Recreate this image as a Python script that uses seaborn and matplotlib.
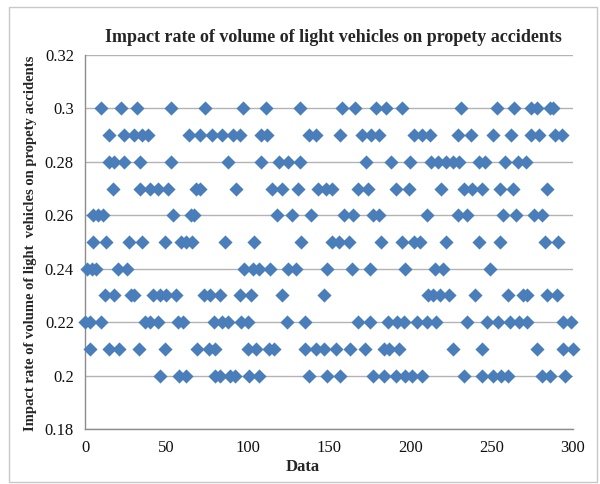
import matplotlib
matplotlib.use("Agg")
import matplotlib.pyplot as plt
from matplotlib.patches import Rectangle
from matplotlib.ticker import FuncFormatter
import seaborn as sns
import pandas as pd

# x positions of the points at each impact-rate level
x_030 = [10, 22, 32, 53, 74, 97, 111, 132, 158, 166, 179, 185, 195, 231, 253,
         264, 274, 278, 286, 288]
x_029 = [15, 24, 30, 35, 39, 64, 71, 78, 84, 91, 95, 108, 112, 138, 142, 157,
         170, 176, 181, 202, 207, 212, 229, 237, 251, 262, 274, 279, 289, 293]
x_028 = [15, 18, 24, 34, 53, 88, 108, 119, 125, 132, 173, 188, 200, 213, 217,
         222, 226, 230, 242, 246, 258, 266, 271]
x_027 = [17, 34, 40, 45, 51, 68, 71, 93, 115, 121, 131, 143, 148, 152, 168, 174,
         191, 199, 219, 233, 238, 244, 255, 263, 284]
x_026 = [5, 8, 11, 54, 65, 67, 118, 127, 139, 159, 165, 177, 181, 210, 229, 235,
         257, 265, 276, 281]
x_025 = [5, 13, 27, 35, 49, 59, 62, 66, 86, 104, 133, 152, 156, 162, 182, 195,
         202, 206, 222, 242, 255, 283, 291]
x_024 = [1, 4, 7, 20, 26, 98, 103, 107, 114, 125, 130, 149, 164, 175, 197, 215,
         220, 249]
x_023 = [12, 18, 28, 30, 42, 46, 50, 56, 73, 77, 83, 95, 102, 121, 147, 211,
         214, 218, 224, 240, 260, 269, 272, 284, 290]
x_022 = [0, 3, 10, 37, 40, 45, 57, 60, 79, 84, 88, 96, 100, 124, 135, 168, 175,
         186, 192, 196, 204, 210, 216, 235, 247, 254, 261, 267, 272, 294, 299]
x_021 = [3, 15, 21, 33, 49, 69, 76, 80, 100, 105, 113, 116, 135, 142, 147, 154,
         163, 172, 184, 187, 193, 226, 244, 278, 294, 300]
x_020 = [46, 58, 62, 80, 83, 89, 92, 101, 107, 138, 149, 157, 177, 184, 191,
         197, 201, 207, 233, 244, 251, 256, 260, 281, 286, 295]

levels = [0.30, 0.29, 0.28, 0.27, 0.26, 0.25, 0.24, 0.23, 0.22, 0.21, 0.20]
level_x = [x_030, x_029, x_028, x_027, x_026, x_025, x_024, x_023, x_022,
           x_021, x_020]

y_ticks = [0.18, 0.20, 0.22, 0.24, 0.26, 0.28, 0.30, 0.32]
x_ticks = [0, 50, 100, 150, 200, 250, 300]

title = "Impact rate of volume of light vehicles on propety accidents"
y_label = "Impact rate of volume of light  vehicles on propety accidents"
x_label = "Data"

rows = []
for lv, xs in zip(levels, level_x):
    for xv in xs:
        rows.append({"Data": xv, "rate": lv})
df = pd.DataFrame(rows)

sns.set_style("white")
plt.rcParams["font.family"] = ["Liberation Serif", "DejaVu Serif"]

W, H = 600, 484
fig = plt.figure(figsize=(W / 100, H / 100), dpi=100)
ax = fig.add_axes([85 / W, 1 - 429 / H, (573 - 85) / W, (429 - 55) / H])

sns.scatterplot(data=df, x="Data", y="rate", marker="D", s=52,
                color="#4A7EBB", linewidth=0, ax=ax, zorder=3, clip_on=False)

ax.set_xlim(0, 300)
ax.set_ylim(0.18, 0.32)
ax.set_xticks(x_ticks)
ax.set_yticks(y_ticks)
ax.yaxis.set_major_formatter(FuncFormatter(lambda v, p: f"{v:g}"))
ax.grid(axis="y", color="#b3b3b3", linewidth=1.0, zorder=0)
ax.set_axisbelow(True)
for s in ["top", "right"]:
    ax.spines[s].set_visible(False)
for s in ["left", "bottom"]:
    ax.spines[s].set_color("#8c8c8c")
    ax.spines[s].set_linewidth(1.0)
ax.tick_params(axis="both", direction="out", length=4, width=1,
               color="#8c8c8c", labelsize=12, pad=4, labelcolor="#111111")
ax.set_xlabel("")
ax.set_ylabel("")

fig.text(333 / W, 1 - 37 / H, title, ha="center", va="center",
         fontsize=13, fontweight="bold")
fig.text(303 / W, 1 - 467 / H, x_label, ha="center", va="center",
         fontsize=12, fontweight="bold")
fig.text(31 / W, 1 - 243 / H, y_label, ha="center", va="center",
         rotation=90, fontsize=10.5, fontweight="bold")

fig.patches.append(Rectangle((9 / W, 1 - 482 / H), (597 - 9) / W,
                             (482 - 7) / H, transform=fig.transFigure,
                             fill=False, edgecolor="#c8c8c8", linewidth=1.0))

fig.savefig("out.png", dpi=100, facecolor="white")
